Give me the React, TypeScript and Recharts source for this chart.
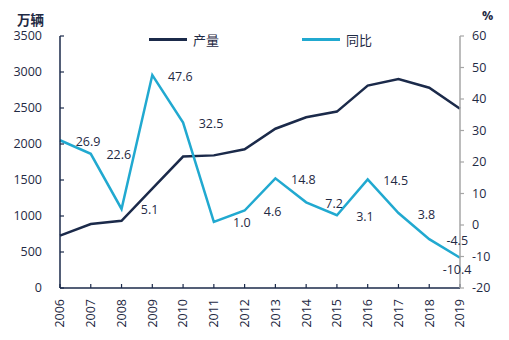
import { LineChart, Line, XAxis, YAxis, Legend, LabelList } from 'recharts';

const years = ['2006', '2007', '2008', '2009', '2010', '2011', '2012', '2013', '2014', '2015', '2016', '2017', '2018', '2019'];
const output = [728, 888, 934, 1379, 1826, 1842, 1927, 2212, 2372, 2450, 2812, 2902, 2781, 2490];
const yoy = [26.9, 22.6, 5.1, 47.6, 32.5, 1.0, 4.6, 14.8, 7.2, 3.1, 14.5, 3.8, -4.5, -10.4];
const leftTicks = [0, 500, 1000, 1500, 2000, 2500, 3000, 3500];
const rightTicks = [-20, -10, 0, 10, 20, 30, 40, 50, 60];

const data = years.map((y, i) => ({ year: y, output: output[i], yoy: yoy[i] }));

const NAVY = '#1b2a4a';
const BLUE = '#21a9d0';
const TEXT = '#1f2a44';
const FONT = '"Open Sans", sans-serif';

function YearTick(props: { x?: number; y?: number; payload?: { value: string } }) {
  const { x = 0, y = 0, payload } = props;
  return (
    <g transform={`translate(${x},${y})`}>
      <text transform="rotate(-90)" textAnchor="end" dy="0.35em" fill={TEXT} fontSize={12.5} fontFamily={FONT}>
        {payload?.value}
      </text>
    </g>
  );
}

function YoyLabel(props: { x?: number; y?: number; value?: number; index?: number }) {
  const { x = 0, y = 0, value, index = 0 } = props;
  const last = index === yoy.length - 1;
  return (
    <text
      x={x + (last ? -3 : 28)}
      y={y + (last ? 12 : 1)}
      textAnchor="middle"
      dominantBaseline="central"
      fill={TEXT}
      fontSize={12.5}
      fontFamily={FONT}
    >
      {Number(value).toFixed(1)}
    </text>
  );
}

function LegendBox({ payload }: { payload?: { value: string; color: string }[] }) {
  const lefts = [149, 302];
  return (
    <div style={{ position: 'relative', width: 509, height: 20 }}>
      {(payload ?? []).map((p, i) => (
        <div key={p.value} style={{ position: 'absolute', left: lefts[i], top: 0, display: 'flex', alignItems: 'center' }}>
          <span style={{ display: 'inline-block', width: 38, height: 2.5, background: p.color }} />
          <span style={{ marginLeft: 6, fontSize: 13, color: TEXT, fontFamily: '"Noto Sans CJK SC", sans-serif' }}>{p.value}</span>
        </div>
      ))}
    </div>
  );
}

export default function App() {
  return (
    <div style={{ position: 'absolute', left: 0, top: 0, background: '#fff' }}>
      <LineChart width={509} height={340} data={data} margin={{ top: 36, right: 0, bottom: 0, left: 0 }}>
        <XAxis
          dataKey="year"
          height={52}
          tick={<YearTick />}
          tickSize={-4}
          tickMargin={15}
          interval={0}
          axisLine={{ stroke: NAVY, strokeWidth: 1.5 }}
          tickLine={{ stroke: NAVY, strokeWidth: 1.2 }}
        />
        <YAxis
          yAxisId="left"
          width={60}
          domain={[0, 3500]}
          ticks={leftTicks}
          tickSize={-4}
          tickMargin={22}
          axisLine={{ stroke: NAVY, strokeWidth: 1.5 }}
          tickLine={{ stroke: NAVY, strokeWidth: 1.2 }}
          tick={{ fill: TEXT, fontSize: 12.5, fontFamily: FONT }}
          label={() => (
            <text x={17} y={25} fill={TEXT} fontSize={13.5} fontWeight="bold" fontFamily='"Noto Sans CJK SC", sans-serif'>
              万辆
            </text>
          )}
        />
        <YAxis
          yAxisId="right"
          orientation="right"
          width={49}
          domain={[-20, 60]}
          ticks={rightTicks}
          tickSize={4}
          tickMargin={8}
          axisLine={{ stroke: '#a6a6a6', strokeWidth: 1.5 }}
          tickLine={{ stroke: '#a6a6a6', strokeWidth: 1.2 }}
          tick={{ fill: TEXT, fontSize: 12.5, fontFamily: FONT, textAnchor: 'start' }}
          label={() => (
            <text x={482} y={20} fill={TEXT} fontSize={12.5} fontWeight="bold" fontFamily={FONT}>
              %
            </text>
          )}
        />
        <Legend verticalAlign="middle" content={<LegendBox />} wrapperStyle={{ top: 30, left: 0, width: 509 }} />
        <Line
          yAxisId="left"
          dataKey="output"
          name="产量"
          stroke={NAVY}
          strokeWidth={2.5}
          dot={false}
          isAnimationActive={false}
        />
        <Line
          yAxisId="right"
          dataKey="yoy"
          name="同比"
          stroke={BLUE}
          strokeWidth={2.5}
          dot={false}
          isAnimationActive={false}
        >
          <LabelList dataKey="yoy" content={<YoyLabel />} />
        </Line>
      </LineChart>
    </div>
  );
}
